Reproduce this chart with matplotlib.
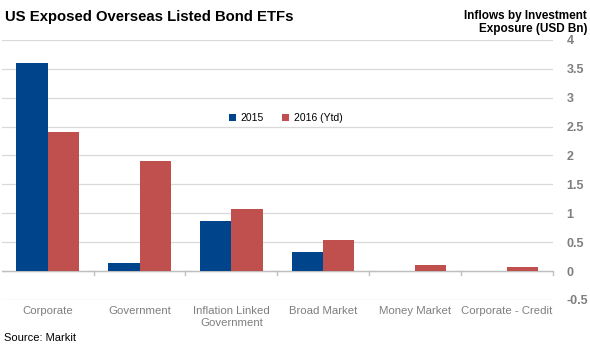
import matplotlib.pyplot as plt
import numpy as np

plt.rcParams['font.family'] = ['Liberation Sans', 'DejaVu Sans']

categories = ["Corporate", "Government", "Inflation Linked\nGovernment",
              "Broad Market", "Money Market", "Corporate - Credit"]
series_names = ["2015", "2016 (Ytd)"]
inflows_2015 = [3.6, 0.14, 0.86, 0.33, 0.0, 0.0]
inflows_2016 = [2.4, 1.9, 1.07, 0.53, 0.1, 0.07]
yticks = [-0.5, 0, 0.5, 1, 1.5, 2, 2.5, 3, 3.5, 4]

blue = "#00448C"
red = "#C0504D"
grey = "#7F7F7F"

fig = plt.figure(figsize=(5.9, 3.5), dpi=100)
ax = fig.add_axes([0.003, 0.143, 0.934, 0.743])

x = np.arange(len(categories))
w = 0.34
ax.bar(x - w / 2, inflows_2015, w, color=blue, label=series_names[0], zorder=3)
ax.bar(x + w / 2, inflows_2016, w, color=red, label=series_names[1], zorder=3)

ax.set_xlim(-0.5, len(categories) - 0.5)
ax.set_ylim(-0.5, 4)
ax.set_yticks(yticks)
ax.set_yticklabels([f"{v:g}" for v in yticks])
ax.yaxis.tick_right()
ax.tick_params(axis='y', length=0, pad=10, labelsize=9, labelcolor=grey)
for lab in ax.get_yticklabels():
    lab.set_fontweight('bold')
ax.grid(axis='y', color="#D9D9D9", linewidth=0.9, zorder=0)

for s in ax.spines.values():
    s.set_visible(False)

# zero line with category separator ticks
ax.axhline(0, color="#BFBFBF", linewidth=1.0, zorder=2)
for b in np.arange(0.5, len(categories) + 0.5, 1.0):
    ax.plot([b, b], [0, -0.06], color="#BFBFBF", linewidth=1.0, zorder=2, clip_on=False)

ax.set_xticks([])
for i, c in enumerate(categories):
    ax.text(i, -0.6, c, ha='center', va='top', fontsize=8.2, color=grey,
            linespacing=1.3)

ax.legend(loc='upper center', bbox_to_anchor=(0.515, 0.755), ncol=2, frameon=False,
          fontsize=7.5, handlelength=0.7, handleheight=0.7, columnspacing=1.8,
          handletextpad=0.4)

fig.text(0.009, 0.95, "US Exposed Overseas Listed Bond ETFs", fontsize=10.7,
         fontweight='bold', ha='left', va='center')
fig.text(0.995, 0.935, "Inflows by Investment\nExposure (USD Bn)", fontsize=8.5,
         fontweight='bold', ha='right', va='center', linespacing=1.15)
fig.text(0.006, 0.035, "Source: Markit", fontsize=8, ha='left', va='center')

fig.savefig("out.png", dpi=100)
